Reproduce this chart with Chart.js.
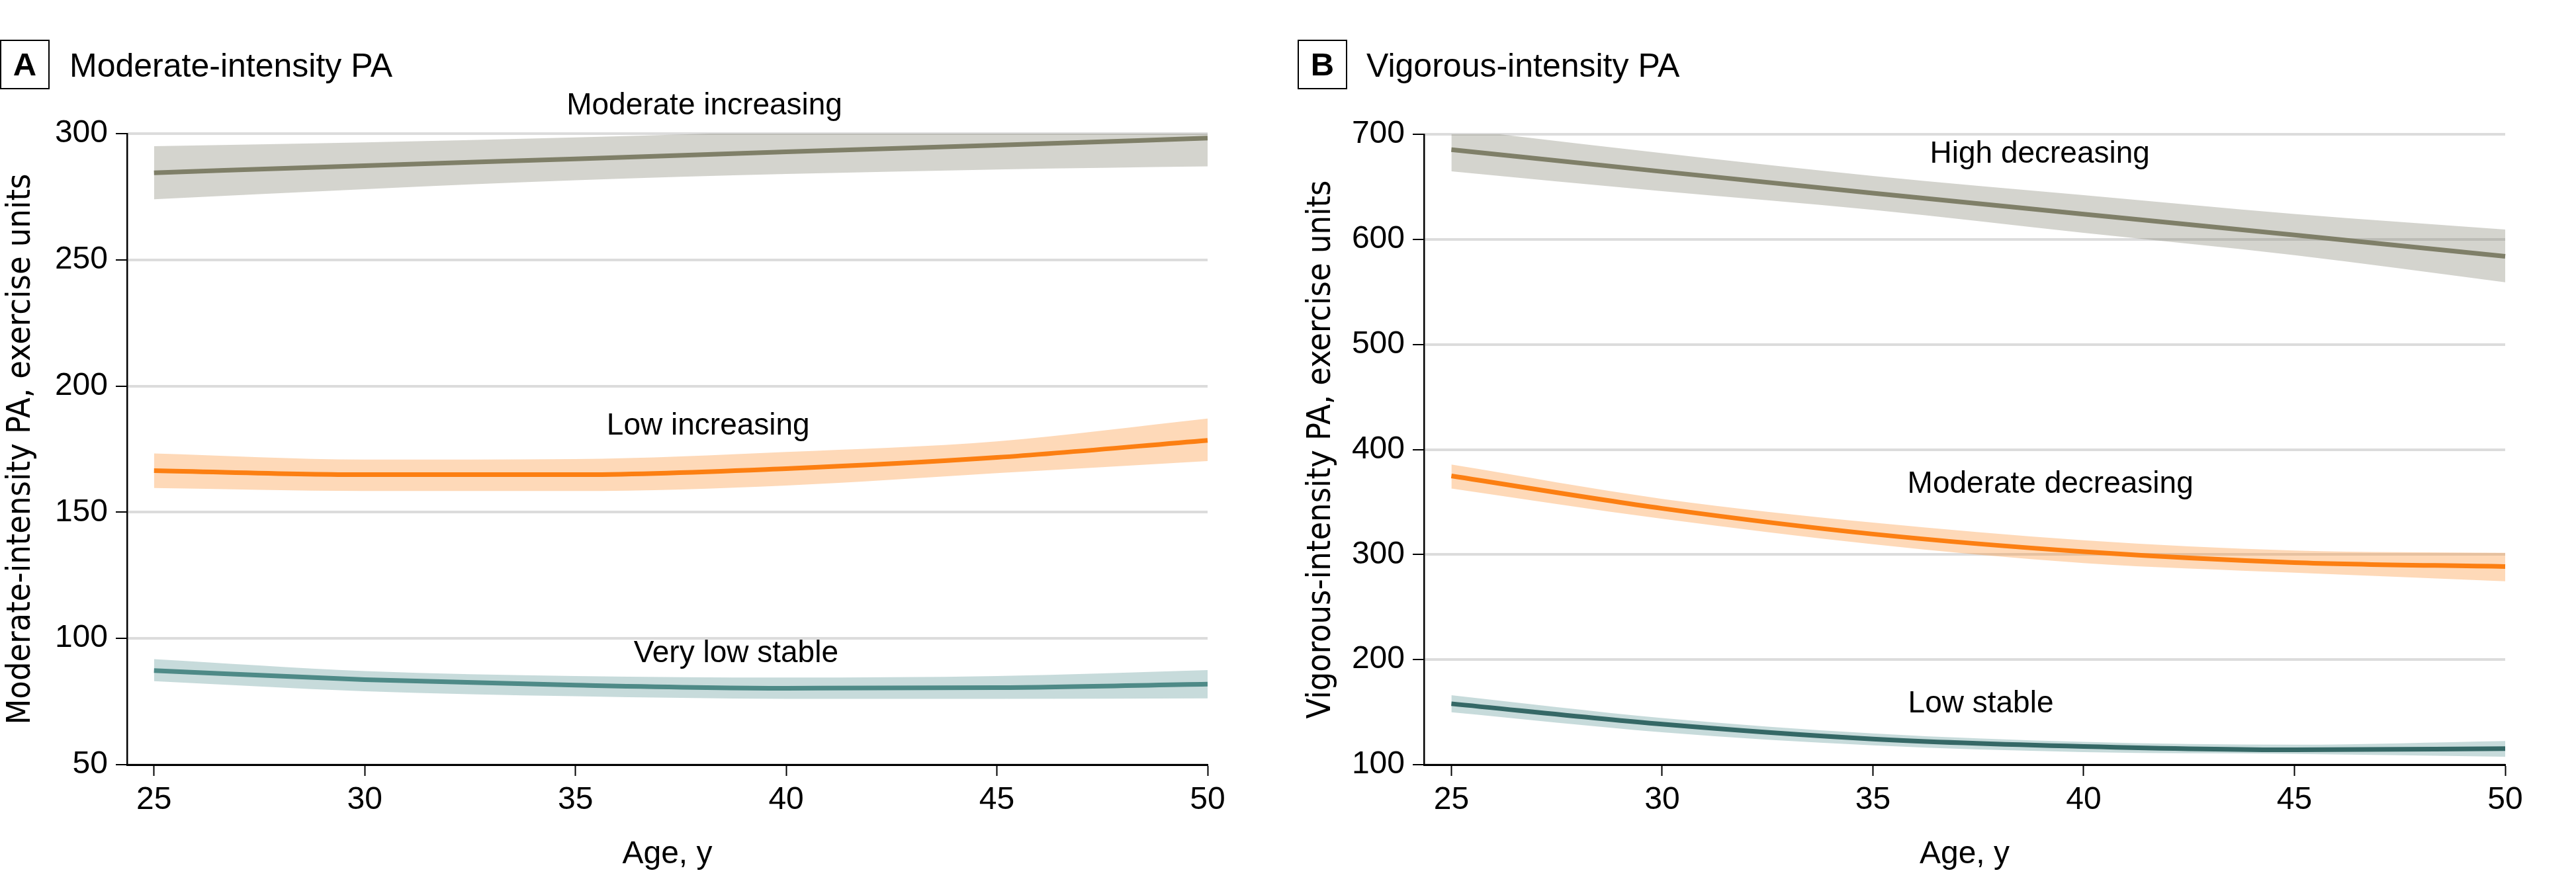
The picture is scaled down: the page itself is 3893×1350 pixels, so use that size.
<!DOCTYPE html>
<html>
<head>
<meta charset="utf-8">
<script src="https://cdn.jsdelivr.net/npm/chart.js@4.4.1/dist/chart.umd.min.js"></script>
<style>
    html, body { margin: 0; padding: 0; background: #fff; }
    body { width: 3893px; height: 1350px; position: relative; overflow: hidden; font-family: 'Liberation Sans', Arial, sans-serif; color: #000; }
    canvas { position: absolute; top: 0; }
    .tag { position: absolute; top: 60px; width: 75px; height: 75px; box-sizing: border-box; border: 2.5px solid #000;
           font-weight: bold; font-size: 49px; line-height: 70px; text-align: center; }
    .head { position: absolute; top: 74px; font-size: 50px; line-height: 50px; white-space: nowrap; }
</style>
</head>
<body>
<div class="tag" style="left:0">A</div>
<div class="head" style="left:105px">Moderate-intensity PA</div>
<div class="tag" style="left:1961px">B</div>
<div class="head" style="left:2065px">Vigorous-intensity PA</div>
<canvas id="chartA" width="1950" height="1350" style="left:0"></canvas>
<canvas id="chartB" width="1943" height="1350" style="left:1950px"></canvas>
<script>
'use strict';

// Shared x axis (age, years)
const ages = [25, 30, 35, 40, 45, 50];
const xTicks = [25, 30, 35, 40, 45, 50];

// Panel A: moderate-intensity PA (exercise units)
const modYTicks = [50, 100, 150, 200, 250, 300];
const modIncMean = [284.5, 287.3, 290.0, 292.8, 295.4, 298.2];
const modIncUpper = [295.0, 296.5, 298.5, 301.0, 304.5, 309.0];
const modIncLower = [274.0, 278.0, 281.5, 284.0, 285.8, 287.0];
const lowIncMean = [166.5, 164.9, 164.9, 167.3, 171.7, 178.5];
const lowIncUpper = [173.3, 170.9, 171.1, 173.9, 178.1, 187.1];
const lowIncLower = [159.6, 158.4, 158.4, 160.6, 165.5, 170.3];
const vlowMean = [87.3, 83.7, 81.5, 80.3, 80.5, 81.9];
const vlowUpper = [91.8, 87.1, 85.1, 84.5, 85.1, 87.5];
const vlowLower = [83.1, 79.1, 77.1, 76.1, 76.1, 76.3];

// Panel B: vigorous-intensity PA (exercise units)
const vigYTicks = [100, 200, 300, 400, 500, 600, 700];
const highDecMean = [685.4, 664.5, 644.0, 624.0, 604.1, 583.8];
const highDecUpper = [705.4, 682.0, 660.4, 642.0, 624.1, 609.3];
const highDecLower = [664.8, 645.8, 628.0, 606.2, 585.0, 559.2];
const modDecMean = [374.8, 343.9, 319.5, 302.7, 292.4, 288.6];
const modDecUpper = [385.6, 353.0, 330.4, 313.6, 303.8, 301.6];
const modDecLower = [362.9, 334.0, 309.8, 291.9, 282.7, 274.5];
const lowStMean = [158.0, 138.5, 124.4, 117.3, 114.1, 115.2];
const lowStUpper = [166.1, 144.4, 129.8, 121.7, 119.0, 122.5];
const lowStLower = [149.9, 130.9, 118.4, 112.0, 110.3, 107.6];

const FONT = "'Liberation Sans', Arial, sans-serif";
const NARROW = "'Liberation Sans Narrow', 'Arial Narrow', 'DejaVu Sans Condensed', 'Liberation Sans', sans-serif";

Chart.defaults.font.family = FONT;
Chart.defaults.color = '#000';

/**
 * Turn a list of values into {x, y} points along the age axis
 */
function toPoints(values) {
    return values.map(function(v, i) {
        return { x: ages[i], y: v };
    });
}

/**
 * Plugin that writes the trajectory names inside the plot
 */
function makeNotePlugin(notes) {
    return {
        id: 'notes',
        afterDatasetsDraw: function(chart) {
            const ctx = chart.ctx;
            const xs = chart.scales.x;
            const ys = chart.scales.y;
            ctx.save();
            ctx.font = '46px ' + FONT;
            ctx.fillStyle = '#000';
            ctx.textAlign = 'center';
            ctx.textBaseline = 'middle';
            notes.forEach(function(n) {
                ctx.fillText(n.text, xs.getPixelForValue(n.x), ys.getPixelForValue(n.y));
            });
            ctx.restore();
        }
    };
}

/**
 * Build one panel: shaded band + mean line for each trajectory
 */
function buildPanel(canvasId, p) {
    const datasets = [];
    p.series.forEach(function(s) {
        datasets.push({
            data: toPoints(s.upper), fill: '+1', backgroundColor: s.band,
            borderWidth: 0, pointRadius: 0, cubicInterpolationMode: 'monotone', clip: false, order: 2
        });
        datasets.push({
            data: toPoints(s.lower), fill: false,
            borderWidth: 0, pointRadius: 0, cubicInterpolationMode: 'monotone', clip: false, order: 2
        });
        datasets.push({
            data: toPoints(s.mean), fill: false, borderColor: s.line, borderWidth: 7,
            pointRadius: 0, cubicInterpolationMode: 'monotone', clip: false, order: 1
        });
    });

    new Chart(document.getElementById(canvasId), {
        type: 'line',
        data: { datasets: datasets },
        options: {
            responsive: false,
            animation: false,
            devicePixelRatio: 1,
            layout: { padding: { top: p.padTop, right: p.padRight, left: 0, bottom: 0 } },
            plugins: { legend: { display: false }, tooltip: { enabled: false } },
            scales: {
                x: {
                    type: 'linear',
                    min: p.xMin,
                    max: 50,
                    afterBuildTicks: function(scale) {
                        scale.ticks = xTicks.map(function(v) { return { value: v }; });
                    },
                    afterFit: function(scale) { scale.height = 1350 - 1156; },
                    grid: { drawOnChartArea: false, drawTicks: true, tickLength: 17, tickColor: '#000', tickWidth: 2 },
                    border: { display: true, color: '#000', width: 3 },
                    ticks: { padding: 8, font: { size: 48 }, color: '#000' },
                    title: { display: true, text: 'Age, y', font: { size: 48 }, color: '#000', padding: { top: 0, bottom: 29 } }
                },
                y: {
                    min: p.yTicks[0],
                    max: p.yTicks[p.yTicks.length - 1],
                    afterBuildTicks: function(scale) {
                        scale.ticks = p.yTicks.map(function(v) { return { value: v }; });
                    },
                    afterFit: function(scale) { scale.width = p.axisLeft; },
                    grid: { color: '#dcdcdc', lineWidth: 4, tickLength: 17, tickColor: '#000', tickWidth: 2 },
                    border: { display: true, color: '#000', width: 2.5 },
                    ticks: { padding: 12, font: { size: 48 }, color: '#000' },
                    title: {
                        display: true, text: p.yTitle, color: '#000',
                        font: { size: 50, family: NARROW, lineHeight: 1 },
                        padding: { top: p.titlePad, bottom: 0 }
                    }
                }
            }
        },
        plugins: [makeNotePlugin(p.notes)]
    });
}

const gray = { line: '#7f7f68', band: 'rgba(125, 125, 105, 0.33)' };
const orange = { line: '#fc7f12', band: 'rgba(253, 140, 40, 0.33)' };
const tealBand = 'rgba(85, 145, 145, 0.33)';

buildPanel('chartA', {
    xMin: 24.36,
    yTicks: modYTicks,
    axisLeft: 192,
    padTop: 202,
    padRight: 125,
    titlePad: 7,
    yTitle: 'Moderate-intensity PA, exercise units',
    series: [
        { mean: modIncMean, upper: modIncUpper, lower: modIncLower, line: gray.line, band: gray.band },
        { mean: lowIncMean, upper: lowIncUpper, lower: lowIncLower, line: orange.line, band: orange.band },
        { mean: vlowMean, upper: vlowUpper, lower: vlowLower, line: '#4e8a87', band: tealBand }
    ],
    notes: [
        { text: 'Moderate increasing', x: 38.06, y: 311 },
        { text: 'Low increasing', x: 38.15, y: 184 },
        { text: 'Very low stable', x: 38.81, y: 94 }
    ]
});

buildPanel('chartB', {
    xMin: 24.35,
    yTicks: vigYTicks,
    axisLeft: 202,
    padTop: 203,
    padRight: 107,
    titlePad: 22,
    yTitle: 'Vigorous-intensity PA, exercise units',
    series: [
        { mean: highDecMean, upper: highDecUpper, lower: highDecLower, line: gray.line, band: gray.band },
        { mean: modDecMean, upper: modDecUpper, lower: modDecLower, line: orange.line, band: orange.band },
        { mean: lowStMean, upper: lowStUpper, lower: lowStLower, line: '#356866', band: tealBand }
    ],
    notes: [
        { text: 'High decreasing', x: 38.96, y: 681 },
        { text: 'Moderate decreasing', x: 39.21, y: 367 },
        { text: 'Low stable', x: 37.56, y: 157.5 }
    ]
});
</script>
</body>
</html>
